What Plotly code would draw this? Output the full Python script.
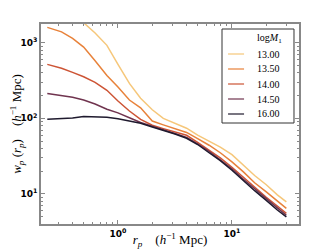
import plotly.graph_objects as go

r_p = [0.24, 0.32, 0.40, 0.50, 0.63, 0.80, 1.0, 1.26, 1.58, 2.0, 2.5, 3.16,
       4.0, 5.0, 6.3, 7.9, 10, 12.6, 15.8, 20, 25, 30]

wp_1300 = [3800, 3300, 2700, 1850, 1350, 927, 520, 290, 185, 130, 100, 85,
           74, 60, 50, 41.5, 33, 24, 17.5, 13.2, 9.7, 7.8]
wp_1350 = [1604, 1400, 1148, 880, 580, 370, 260, 175, 138, 92, 82, 73,
           65, 54, 44, 35, 26.5, 19.5, 14, 10.6, 7.9, 6.4]
wp_1400 = [519, 460, 406, 355, 300, 235, 170, 125, 97, 81, 73, 66,
           59.6, 48, 38, 30, 22.5, 16.5, 12.2, 9.0, 6.9, 5.5]
wp_1450 = [214, 200, 190, 175, 155, 132, 118, 102, 88, 78.5, 71, 63,
           56, 46, 36.5, 28.5, 21.5, 15.6, 11.6, 8.6, 6.5, 5.2]
wp_1600 = [97, 98, 101, 106, 105, 103, 99, 93, 86, 77, 70, 62,
           54.5, 45, 35, 27.5, 20.5, 14.8, 11, 8.2, 6.1, 4.95]

labels = ["13.00", "13.50", "14.00", "14.50", "16.00"]
series = [wp_1300, wp_1350, wp_1400, wp_1450, wp_1600]
colors = ["#f6c77a", "#e8823a", "#cd5435", "#70344f", "#1f1a2e"]
legend_title = "log<i>M</i><sub>1</sub>"

fig = go.Figure()
for lab, ys, c in zip(labels, series, colors):
    fig.add_trace(go.Scatter(x=r_p, y=ys, mode="lines", name=lab,
                             showlegend=False,
                             line=dict(color=c, width=1.5)))

minor_x = [m * 10 ** e for e in (-1, 0, 1) for m in range(2, 10)]
minor_y = [m * 10 ** e for e in (0, 1, 2, 3) for m in range(2, 10)]

tickfont = dict(family="DejaVu Sans", size=9, color="#000")
axis_common = dict(
    type="log", showgrid=False, zeroline=False, automargin=False,
    showline=True, linecolor="#888", linewidth=1.5, mirror="allticks",
    ticks="inside", ticklen=4, tickcolor="#888", tickwidth=1,
    tickfont=tickfont,
)

fig.update_xaxes(
    **axis_common,
    range=[-0.675, 1.588],
    tickvals=[1, 10],
    ticktext=["<b>10<sup>0</sup></b>", "<b>10<sup>1</sup></b>"],
    minor=dict(tickvals=minor_x, ticks="inside", ticklen=2, tickcolor="#888"),
    title=dict(text="<i>r<sub>p</sub></i>    (<i>h</i><sup>−1</sup> Mpc)",
               font=dict(family="Liberation Serif", size=13, color="#000"),
               standoff=1),
)
fig.update_yaxes(
    **axis_common,
    range=[0.60, 3.25],
    tickvals=[10, 100, 1000],
    ticktext=["<b>10<sup>1</sup></b>", "<b>10<sup>2</sup></b>", "<b>10<sup>3</sup></b>"],
    minor=dict(tickvals=minor_y, ticks="inside", ticklen=2, tickcolor="#888"),
    title=dict(text="<i>w<sub>p</sub></i> (<i>r<sub>p</sub></i>)    (<i>h</i><sup>−1</sup> Mpc)",
               font=dict(family="Liberation Serif", size=13, color="#000"),
               standoff=2),
)

# manual legend box (paper coordinates)
shapes = [dict(type="rect", xref="paper", yref="paper",
               x0=0.7016, x1=0.9806, y0=0.505, y1=0.975,
               line=dict(color="#333", width=1), fillcolor="white", layer="above")]
annotations = [dict(text=legend_title, xref="paper", yref="paper",
                    x=0.829, y=0.925, xanchor="left", yanchor="middle",
                    showarrow=False,
                    font=dict(family="Liberation Serif", size=10, color="#000"))]
entry_y = [0.85, 0.775, 0.70, 0.625, 0.55]
for lab, c, yy in zip(labels, colors, entry_y):
    shapes.append(dict(type="line", xref="paper", yref="paper",
                       x0=0.725, x1=0.787, y0=yy, y1=yy,
                       line=dict(color=c, width=1.5), opacity=0.8, layer="above"))
    annotations.append(dict(text=lab, xref="paper", yref="paper",
                            x=0.829, y=yy, xanchor="left", yanchor="middle",
                            showarrow=False,
                            font=dict(family="Liberation Serif", size=10, color="#000")))

# page body has an 8px default margin: shift the figure accordingly
fig.update_layout(
    width=324, height=241,
    margin=dict(l=33, r=33, t=16, b=25),
    paper_bgcolor="white", plot_bgcolor="white",
    showlegend=False,
    shapes=shapes, annotations=annotations,
)

fig.write_html("out.html")
